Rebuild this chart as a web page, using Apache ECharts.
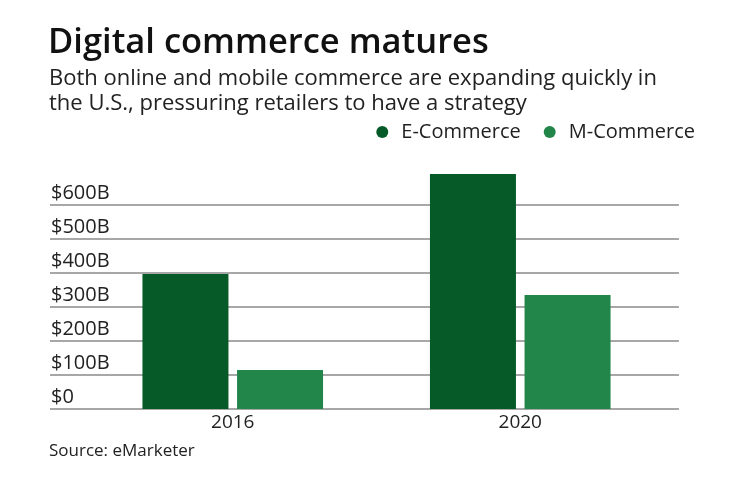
<!DOCTYPE html>
<html>
<head>
<meta charset="utf-8">
<script src="https://cdn.jsdelivr.net/npm/echarts@6/dist/echarts.min.js"></script>
<style>
    html, body { margin: 0; padding: 0; background: #fff; }
    #chart { width: 740px; height: 482px; }
</style>
</head>
<body>
<div id="chart"></div>
<script>
    // data (billions of dollars)
    var years = ['2016', '2020'];
    var eCommerce = [397, 691];
    var mCommerce = [115, 335];
    var seriesNames = ['E-Commerce', 'M-Commerce'];
    var yTicks = [0, 100, 200, 300, 400, 500, 600];

    var font = 'Open Sans';
    var chart = echarts.init(document.getElementById('chart'));

    chart.setOption({
        animation: false,
        color: ['#055a27', '#22864b'],
        title: [
            {
                text: 'Digital commerce matures',
                left: 48,
                top: 26,
                padding: 0,
                textStyle: { fontFamily: font, fontWeight: 600, fontSize: 34.5, color: '#111' }
            },
            {
                text: 'Both online and mobile commerce are expanding quickly in\nthe U.S., pressuring retailers to have a strategy',
                left: 49,
                top: 66,
                padding: 0,
                textStyle: { fontFamily: font, fontWeight: 'normal', fontSize: 22, lineHeight: 25, color: '#222' }
            },
            {
                text: 'Source: eMarketer',
                left: 49,
                top: 443,
                padding: 0,
                textStyle: { fontFamily: font, fontWeight: 'normal', fontSize: 17, color: '#222' }
            }
        ],
        legend: {
            right: 45,
            top: 122,
            padding: 0,
            icon: 'circle',
            itemWidth: 12,
            itemHeight: 12,
            itemGap: 23,
            data: seriesNames,
            textStyle: { fontFamily: font, fontSize: 20, color: '#222', padding: [0, 0, 0, 8] }
        },
        grid: [
            { left: 50, right: 61, top: 205, bottom: 73 },
            // same scale as the gridlines, extended up so the 2020 bar is not clipped
            { left: 89, right: 76, top: 137, bottom: 73 }
        ],
        xAxis: [
            { gridIndex: 0, type: 'value', show: false },
            {
                gridIndex: 1,
                type: 'category',
                data: years,
                axisLine: { show: false },
                axisTick: { show: false },
                axisLabel: { fontFamily: font, fontSize: 19, color: '#222', margin: 4 }
            }
        ],
        yAxis: [
            {
                gridIndex: 0,
                type: 'value',
                min: yTicks[0],
                max: yTicks[yTicks.length - 1],
                interval: 100,
                axisLine: { show: false },
                axisTick: { show: false },
                splitLine: { lineStyle: { color: '#8a8a8a', width: 1.5 } },
                axisLabel: {
                    inside: true,
                    margin: 1,
                    verticalAlign: 'bottom',
                    padding: [0, 0, 2, 0],
                    fontFamily: font,
                    fontSize: 20,
                    color: '#222',
                    formatter: function (v) { return v === 0 ? '$0' : '$' + v + 'B'; }
                }
            },
            {
                gridIndex: 1,
                type: 'value',
                min: 0,
                max: 800,
                interval: 100,
                show: false,
                splitLine: { show: false }
            }
        ],
        series: [
            {
                name: seriesNames[0],
                type: 'bar',
                xAxisIndex: 1,
                yAxisIndex: 1,
                barWidth: 86,
                barGap: '10%',
                data: eCommerce
            },
            {
                name: seriesNames[1],
                type: 'bar',
                xAxisIndex: 1,
                yAxisIndex: 1,
                barWidth: 86,
                barGap: '10%',
                data: mCommerce
            }
        ]
    });
</script>
</body>
</html>
